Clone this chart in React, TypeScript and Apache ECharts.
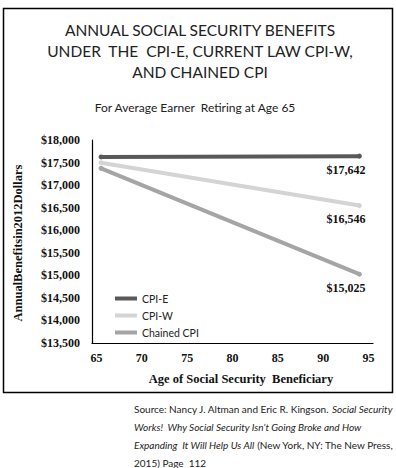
import React, { useEffect, useRef } from "react";
import * as echarts from "echarts";

const ages = [65.5, 94];
const cpiE = [17625, 17642];
const cpiW = [17497, 16546];
const chained = [17373, 15025];
const seriesNames = ["CPI-E", "CPI-W", "Chained CPI"];
const xTicks = [65, 70, 75, 80, 85, 90, 95];
const titleLines = [
  "ANNUAL SOCIAL SECURITY BENEFITS",
  "UNDER  THE  CPI-E, CURRENT LAW CPI-W,",
  "AND CHAINED CPI",
];
const subtitle = "For Average Earner  Retiring at Age 65";
const yTitle = "AnnualBenefitsin2012Dollars";
const xTitle = "Age of Social Security  Beneficiary";
const sourceLines = [
  "{n|Source: Nancy J. Altman and Eric R. Kingson. }{i|Social Security}",
  "{i|Works!  Why Social Security Isn\u2019t Going Broke and How}",
  "{i|Expanding  It Will Help Us All}{n| (New York, NY: The New Press,}",
  "{n|2015) Page  112}",
];

const SANS = "Lato, 'Open Sans', sans-serif";
const SERIF = "'Liberation Serif', 'DejaVu Serif', serif";

export default function App() {
  const ref = useRef<HTMLDivElement>(null);
  useEffect(() => {
    if (!ref.current) return;
    const chart = echarts.init(ref.current, null, { renderer: "svg" });
    const colors = ["#595959", "#d4d4d4", "#a5a5a5"];
    const mk = (name: string, vals: number[], color: string) => ({
      name,
      type: "line",
      data: ages.map((a, i) => [a, vals[i]]),
      lineStyle: { width: 4, color },
      itemStyle: { color },
      symbol: "circle",
      symbolSize: 5,
      showSymbol: true,
      z: name === "CPI-E" ? 3 : 2,
      label: {
        show: true,
        position: "bottom",
        align: "right",
        offset: [6, 0],
        fontFamily: SERIF,
        fontWeight: "bold",
        fontSize: 12,
        color: "#111",
        formatter: (p: any) =>
          p.dataIndex === vals.length - 1 ? "$" + vals[p.dataIndex].toLocaleString("en-US") : "",
      },
    });
    chart.setOption({
      animation: false,
      grid: { left: 92, right: 23, top: 140, bottom: 125 },
      legend: {
        orient: "vertical",
        left: 110,
        top: 287,
        icon: "rect",
        itemWidth: 22,
        itemHeight: 4,
        itemGap: 4,
        textStyle: { fontFamily: SANS, fontSize: 10.5, color: "#222", lineHeight: 13 },
        data: seriesNames,
      },
      xAxis: {
        type: "value",
        min: 64.5,
        max: 95.5,
        axisLine: { show: true, lineStyle: { color: "#000", width: 1.2 } },
        axisTick: { show: false },
        splitLine: { show: false },
        axisLabel: {
          customValues: xTicks,
          margin: 9,
          fontFamily: SERIF,
          fontWeight: "bold",
          fontSize: 12,
          color: "#111",
          formatter: (v: number) => String(Math.round(v)),
        },
      },
      yAxis: {
        type: "value",
        min: 13500,
        max: 18000,
        interval: 500,
        axisLine: { show: true, lineStyle: { color: "#000", width: 1.2 } },
        axisTick: { show: false },
        splitLine: { show: false },
        axisLabel: {
          margin: 12,
          fontFamily: SERIF,
          fontWeight: "bold",
          fontSize: 12,
          color: "#111",
          formatter: (v: number) => "$" + v.toLocaleString("en-US"),
        },
      },
      series: [
        mk(seriesNames[0], cpiE, colors[0]),
        mk(seriesNames[1], cpiW, colors[1]),
        mk(seriesNames[2], chained, colors[2]),
      ],
      graphic: [
        {
          type: "rect",
          shape: { x: 3.5, y: 8.5, width: 389, height: 384 },
          style: { fill: "none", stroke: "#000", lineWidth: 1.5 },
          silent: true,
        },
        ...titleLines.map((t, i) => ({
          type: "text",
          x: 200,
          y: 30 + i * 21,
          style: {
            text: t,
            fontFamily: SANS,
            fontSize: 15.5,
            fill: "#222",
            textAlign: "center",
            textVerticalAlign: "middle",
          },
        })),
        {
          type: "text",
          x: 195,
          y: 107,
          style: {
            text: subtitle,
            fontFamily: SANS,
            fontSize: 12,
            fill: "#222",
            textAlign: "center",
            textVerticalAlign: "middle",
          },
        },
        {
          type: "text",
          x: 18,
          y: 243,
          rotation: Math.PI / 2,
          style: {
            text: yTitle,
            fontFamily: SERIF,
            fontWeight: "bold",
            fontSize: 12.5,
            fill: "#111",
            textAlign: "center",
            textVerticalAlign: "middle",
          },
        },
        {
          type: "text",
          x: 241,
          y: 379,
          style: {
            text: xTitle,
            fontFamily: SERIF,
            fontWeight: "bold",
            fontSize: 12.5,
            fill: "#111",
            textAlign: "center",
            textVerticalAlign: "middle",
          },
        },
        ...sourceLines.map((t, i) => ({
          type: "text",
          x: 134,
          y: 409 + i * 18,
          style: {
            text: t,
            fontFamily: SANS,
            fontSize: 10,
            fill: "#222",
            textVerticalAlign: "middle",
            rich: {
              n: { fontFamily: SANS, fontSize: 10, fill: "#222" },
              i: { fontFamily: SANS, fontSize: 10, fill: "#222", fontStyle: "italic" },
            },
          },
        })),
      ],
    });
    return () => chart.dispose();
  }, []);
  return (
    <div
      ref={ref}
      style={{ position: "fixed", left: 0, top: 0, width: 396, height: 468, background: "#fff" }}
    />
  );
}
